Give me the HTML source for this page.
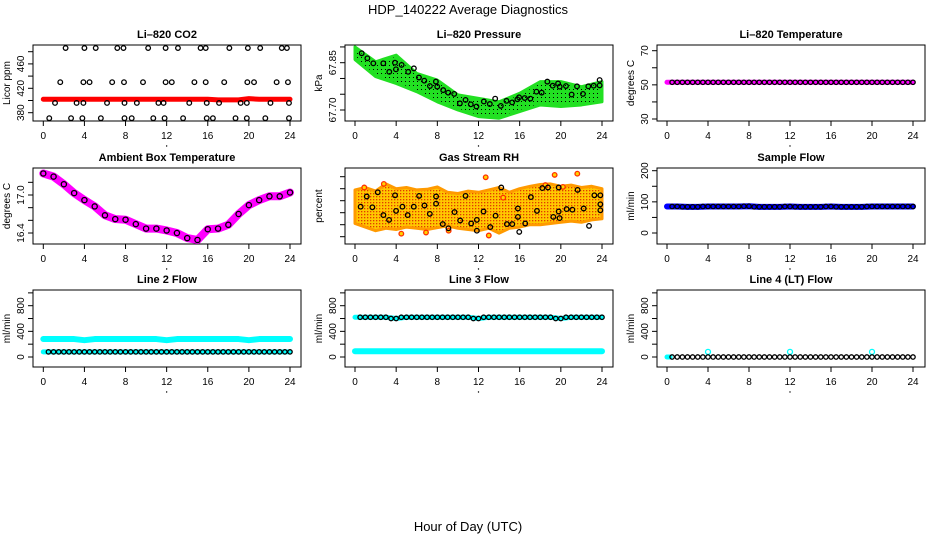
<!DOCTYPE html>
<html><head><meta charset="utf-8"><style>
html,body{margin:0;padding:0;background:#fff}
svg{display:block;font-family:"Liberation Sans",sans-serif}
</style></head><body>
<svg id="chart" width="936" height="540" viewBox="0 0 936 540" xmlns="http://www.w3.org/2000/svg">
<defs>
<pattern id="greenDots" width="4" height="4" patternUnits="userSpaceOnUse"><rect width="4" height="4" fill="#22e022"/><rect x="1" y="1" width="1" height="1" fill="#000"/></pattern>
<pattern id="rhDots" width="3" height="3" patternUnits="userSpaceOnUse"><rect width="3" height="3" fill="#ffc800"/><rect x="1" y="1" width="1.3" height="1.3" fill="#e23a00"/></pattern>
</defs>
<text x="468" y="14" text-anchor="middle" font-size="13">HDP_140222  Average Diagnostics</text>
<text x="468" y="531" text-anchor="middle" font-size="13">Hour of Day (UTC)</text>
</svg>
<script>
// ---- data ----
const hours = [0,1,2,3,4,5,6,7,8,9,10,11,12,13,14,15,16,17,18,19,20,21,22,23,24];
// CO2
const co2Band = [402,402,402,402,402,402,402,402,402,402,402,402,402,402,402,402,402,401,401,401,403,402,402,402,402];
const co2TopX = [2.17,4.0,5.1,7.2,7.8,10.2,11.9,13.1,15.3,15.8,18.1,19.9,21.1,23.2,23.7];
const co2TopY = [486,486,486,486,486,486,486,486,486,486,486,486,486,486,486];
const co2MidX = [1.65,3.9,4.5,6.7,7.85,9.7,11.9,12.5,14.7,15.8,17.6,19.85,20.5,22.7,23.8];
const co2MidY = [430,430,430,430,430,430,430,430,430,430,430,430,430,430,430];
const co2LowX = [1.14,3.24,3.9,6.2,7.9,9.1,11.2,11.7,14.2,15.9,17.1,19.2,19.8,22.1,23.9];
const co2LowY = [396,396,396,396,396,396,396,396,396,396,396,396,396,396,396];
const co2BotX = [0.58,2.7,3.8,5.6,7.9,8.6,10.7,11.8,13.6,15.9,16.5,18.7,19.8,21.6,23.9];
const co2BotY = [371,371,371,371,371,371,371,371,371,371,371,371,371,371,371];
// Pressure
const presBandX = [0,2,4,6,8,10,12,14,16,18,20,22,24];
const presUpper = [67.90,67.853,67.874,67.816,67.795,67.748,67.737,67.726,67.753,67.79,67.79,67.774,67.79];
const presLower = [67.86,67.806,67.784,67.758,67.726,67.70,67.679,67.674,67.695,67.716,67.711,67.716,67.726];
const presPtX = [0.65,1.2,1.78,2.75,3.33,3.88,3.98,4.53,5.17,5.72,6.21,6.73,7.28,7.86,7.99,8.57,9.06,9.64,10.19,10.74,11.25,11.8,12.52,13.1,13.62,14.17,14.72,15.27,15.78,15.94,16.49,17.04,17.63,18.14,18.69,19.21,19.73,19.89,20.5,21.05,21.57,22.15,22.67,23.19,23.77,23.77];
const presPtY = [67.88,67.864,67.848,67.848,67.821,67.85,67.829,67.843,67.821,67.832,67.803,67.793,67.776,67.79,67.774,67.763,67.755,67.751,67.721,67.732,67.718,67.711,67.727,67.719,67.736,67.713,67.729,67.724,67.734,67.74,67.738,67.736,67.758,67.755,67.79,67.777,67.784,67.774,67.776,67.749,67.775,67.751,67.775,67.777,67.795,67.778];
// Li-820 temperature
const tempVals = [51.5,51.5,51.5,51.5,51.5,51.5,51.5,51.5,51.5,51.5,51.5,51.5,51.5,51.5,51.5,51.5,51.5,51.5,51.5,51.5,51.5,51.5,51.5,51.5,51.5];
// Ambient box temperature
const ambVals = [17.34,17.29,17.17,17.03,16.92,16.82,16.68,16.62,16.61,16.54,16.47,16.47,16.44,16.40,16.32,16.29,16.46,16.47,16.53,16.70,16.84,16.92,16.98,16.98,17.04];
// Gas stream RH
const rhBandX = [0,1,2,3,4,5,6,7,8,9,10,11,12,13,14,15,16,17,18,19,20,21,22,23,24];
const rhUpper = [-0.122,-0.118,-0.124,-0.112,-0.120,-0.118,-0.122,-0.121,-0.117,-0.126,-0.128,-0.124,-0.126,-0.122,-0.118,-0.126,-0.120,-0.116,-0.113,-0.112,-0.116,-0.114,-0.118,-0.116,-0.120];
const rhLower = [-0.178,-0.184,-0.190,-0.186,-0.188,-0.184,-0.186,-0.188,-0.185,-0.182,-0.186,-0.188,-0.190,-0.186,-0.194,-0.186,-0.184,-0.180,-0.180,-0.178,-0.176,-0.174,-0.176,-0.172,-0.170];
const rhPtX = [0.55,1.14,1.69,2.21,2.76,3.31,3.89,3.99,4.61,5.12,5.71,6.23,6.75,7.27,7.88,7.88,8.53,9.08,9.67,10.22,10.74,11.29,11.84,11.84,12.49,13.14,13.66,14.21,14.76,15.28,15.83,15.83,15.96,16.54,17.09,17.68,18.2,18.75,19.27,19.79,19.79,19.88,20.56,21.12,21.63,22.22,22.74,23.26,23.84,23.84,23.84];
const rhPtY = [-0.15,-0.133,-0.151,-0.126,-0.164,-0.172,-0.131,-0.157,-0.15,-0.164,-0.15,-0.132,-0.148,-0.162,-0.133,-0.145,-0.179,-0.186,-0.159,-0.173,-0.132,-0.178,-0.172,-0.19,-0.158,-0.184,-0.165,-0.118,-0.179,-0.179,-0.167,-0.153,-0.192,-0.178,-0.134,-0.157,-0.119,-0.118,-0.167,-0.118,-0.158,-0.169,-0.154,-0.155,-0.122,-0.153,-0.182,-0.131,-0.131,-0.146,-0.156];
const rhOutX = [4.5,6.9,9.1,12.7,13.0,14.4,18.5,19.4,21.6,20.2,2.8,0.9];
const rhOutY = [-0.195,-0.193,-0.19,-0.101,-0.198,-0.135,-0.114,-0.097,-0.095,-0.117,-0.112,-0.118];
// Flows
const sampleVals = [85,85,84,84,85,85,85,85,86,84,84,84,85,84,84,84,85,84,84,84,85,85,85,85,85];
const line2Upper = [280,280,280,280,262,280,280,280,280,280,280,280,262,280,280,280,280,280,280,280,262,280,280,280,280];
const line2Lower = [80,80,80,80,80,80,80,80,80,80,80,80,80,80,80,80,80,80,80,80,80,80,80,80,80];
const line3Upper = [620,620,620,620,600,620,620,620,620,620,620,620,600,620,620,620,620,620,620,620,600,620,620,620,620];
const line3Lower = [90,90,90,90,90,90,90,90,90,90,90,90,90,90,90,90,90,90,90,90,90,90,90,90,90];
const line4Vals = [0,0,0,0,0,0,0,0,0,0,0,0,0,0,0,0,0,0,0,0,0,0,0,0,0];
const line4SpikeX = [4,12,20];
const line4SpikeY = [80,80,80];
const xTicks = [0,4,8,12,16,20,24];

// ---- layout ----
const NS = "http://www.w3.org/2000/svg";
const svg = document.getElementById('chart');
const cols = [{L:33,R:301,x0:43.3,x1:290},{L:345,R:613,x0:355,x1:602},{L:657,R:925,x0:667,x1:913}];
const rows = [{T:45,B:121},{T:168,B:244},{T:290,B:367}];
function mk(tag, attrs, parent){const e=document.createElementNS(NS,tag);for(const k in attrs)e.setAttribute(k,attrs[k]);(parent||svg).appendChild(e);return e;}

function panel(ci, ri, name, title, ylab, v0, p0, v1, p1, yTicks, yLabels){
  const c=cols[ci], r=rows[ri];
  const g=mk('g',{});
  
  
  const xs=h=>c.x0+(h/24)*(c.x1-c.x0);
  const ys=v=>p0+(v-v0)*(p1-p0)/(v1-v0);
  const t=mk('text',{x:(c.L+c.R)/2,y:r.T-7,'text-anchor':'middle','font-size':11,'font-weight':'bold'},g);
  t.textContent=title;
  
  
  const box=mk('rect',{x:c.L,y:r.T,width:c.R-c.L,height:r.B-r.T,fill:'none',stroke:'#000','stroke-width':1},g);
  
  
  const xa=mk('g',{},g);
  
  
  xTicks.forEach(h=>{
    mk('line',{x1:xs(h),x2:xs(h),y1:r.B,y2:r.B+5,stroke:'#000'},xa);
    const tl=mk('text',{x:xs(h),y:r.B+18,'text-anchor':'middle','font-size':10},xa);
    tl.textContent=h;
  });
  mk('circle',{cx:xs(12),cy:r.B+25,r:0.7,fill:'#000'},xa);
  const ya=mk('g',{},g);
  
  
  yTicks.forEach(v=>{
    const y=ys(v);
    mk('line',{x1:c.L-5,x2:c.L,y1:y,y2:y,stroke:'#000'},ya);
  });
  yLabels.forEach(v=>{
    const y=ys(v);
    const tl=mk('text',{x:c.L-9,y:y,'text-anchor':'middle','font-size':10,transform:`rotate(-90 ${c.L-9} ${y})`},ya);
    tl.textContent=String(v);
  });
  const yt=mk('text',{x:c.L-23,y:(r.T+r.B)/2,'text-anchor':'middle','font-size':10,transform:`rotate(-90 ${c.L-23} ${(r.T+r.B)/2})`},g);
  yt.textContent=ylab;
  
  
  const clip='clip-'+name;
  const cp=mk('clipPath',{id:clip},g); mk('rect',{x:c.L,y:r.T,width:c.R-c.L,height:r.B-r.T},cp);
  const plot=mk('g',{'clip-path':`url(#${clip})`},g);
  return {xs,ys,plot};
}
function band(p,xsArr,vals,color,w,name){
  const pl=mk('polyline',{points:xsArr.map((h,i)=>p.xs(h)+','+p.ys(vals[i])).join(' '),fill:'none',stroke:color,'stroke-width':w,'stroke-linejoin':'round','stroke-linecap':'round'},p.plot);
  
  
}
function pts(p,xsArr,vals,color,name,rad,fill){
  const g=mk('g',{},p.plot);
  
  
  xsArr.forEach((h,i)=>{mk('circle',{cx:p.xs(h),cy:p.ys(vals[i]),r:rad||2.3,fill:fill||'none',stroke:color,'stroke-width':1.3},g);});
}
function area(p,xsArr,up,lo,fill,stroke,name){
  const a=xsArr.map((h,i)=>p.xs(h)+','+p.ys(up[i]));
  const b=xsArr.map((h,i)=>p.xs(h)+','+p.ys(lo[i])).reverse();
  const pg=mk('polygon',{points:a.concat(b).join(' '),fill:fill,stroke:stroke,'stroke-width':3,'stroke-linejoin':'round'},p.plot);
  
  
}
const halfHours=[]; for(let h=0.5;h<=24;h+=0.5) halfHours.push(h);
function pick(vals){return halfHours.map(h=>vals[Math.min(24,Math.round(h))]);}

let p=panel(0,0,'co2','Li\u2013820 CO2','Licor ppm',380,112.7,480,51.7,[380,400,420,440,460,480],[380,420,460]);
band(p,hours,co2Band,'#ff0000',5,'co2-red-band');
pts(p,co2TopX,co2TopY,'#000','co2-points-top');
pts(p,co2MidX,co2MidY,'#000','co2-points-mid');
pts(p,co2LowX,co2LowY,'#000','co2-points-low');
pts(p,co2BotX,co2BotY,'#000','co2-points-bottom');

p=panel(1,0,'pressure','Li\u2013820 Pressure','kPa',67.70,110,67.85,62.7,[67.70,67.75,67.80,67.85,67.90],['67.70','67.85']);
area(p,presBandX,presUpper,presLower,'url(#greenDots)','#22e022','pressure-green-band');
pts(p,presPtX,presPtY,'#000','pressure-points');

p=panel(2,0,'li820-temp','Li\u2013820 Temperature','degrees C',30,119,70,50.7,[30,40,50,60,70],[30,50,70]);
band(p,hours,tempVals,'#ff00ff',5,'temp-magenta-band');
pts(p,halfHours,pick(tempVals),'#000','temp-points',2.2);

p=panel(0,1,'ambient','Ambient Box Temperature','degrees C',16.4,233,17.0,195,[16.4,16.6,16.8,17.0,17.2],['16.4','17.0']);
band(p,hours,ambVals,'#ff00ff',8,'ambient-magenta-band');
pts(p,hours,ambVals,'#000','ambient-points',2.6);

p=panel(1,1,'rh','Gas Stream RH','percent',-0.10,176.7,-0.20,236.7,[-0.10,-0.12,-0.14,-0.16,-0.18,-0.20],['\u22120.12','\u22120.18']);
area(p,rhBandX,rhUpper,rhLower,'url(#rhDots)','#ff9a00','rh-orange-band');
pts(p,rhOutX,rhOutY,'#ff3000','rh-outliers',2.3,'#ffd400');
pts(p,rhPtX,rhPtY,'#000','rh-points');

p=panel(2,1,'sample-flow','Sample Flow','ml/min',0,233,200,170.7,[0,50,100,150,200],[0,100,200]);
band(p,hours,sampleVals,'#0000ff',6,'sample-blue-band');
pts(p,halfHours,pick(sampleVals),'#000','sample-points',2.2);

p=panel(0,2,'line2','Line 2 Flow','ml/min',0,357,800,305.7,[0,200,400,600,800,1000],[0,400,800]);
band(p,hours,line2Upper,'#00ffff',6,'line2-cyan-upper');
band(p,hours,line2Lower,'#00ffff',5,'line2-cyan-lower');
pts(p,halfHours,pick(line2Lower),'#000','line2-points',2.2);

p=panel(1,2,'line3','Line 3 Flow','ml/min',0,357,800,305.7,[0,200,400,600,800,1000],[0,400,800]);
band(p,hours,line3Upper,'#00ffff',5,'line3-cyan-upper');
band(p,hours,line3Lower,'#00ffff',6,'line3-cyan-lower');
pts(p,halfHours,pick(line3Upper),'#000','line3-points',2.2);

p=panel(2,2,'line4','Line 4 (LT) Flow','ml/min',0,357,800,305.7,[0,200,400,600,800,1000],[0,400,800]);
band(p,[0,0.3],[0,0],'#00ffff',5,'line4-cyan-start');
pts(p,line4SpikeX,line4SpikeY,'#00ffff','line4-cyan-spikes',2.5);
pts(p,halfHours,pick(line4Vals),'#000','line4-points',2.2);
</script>
</body></html>
